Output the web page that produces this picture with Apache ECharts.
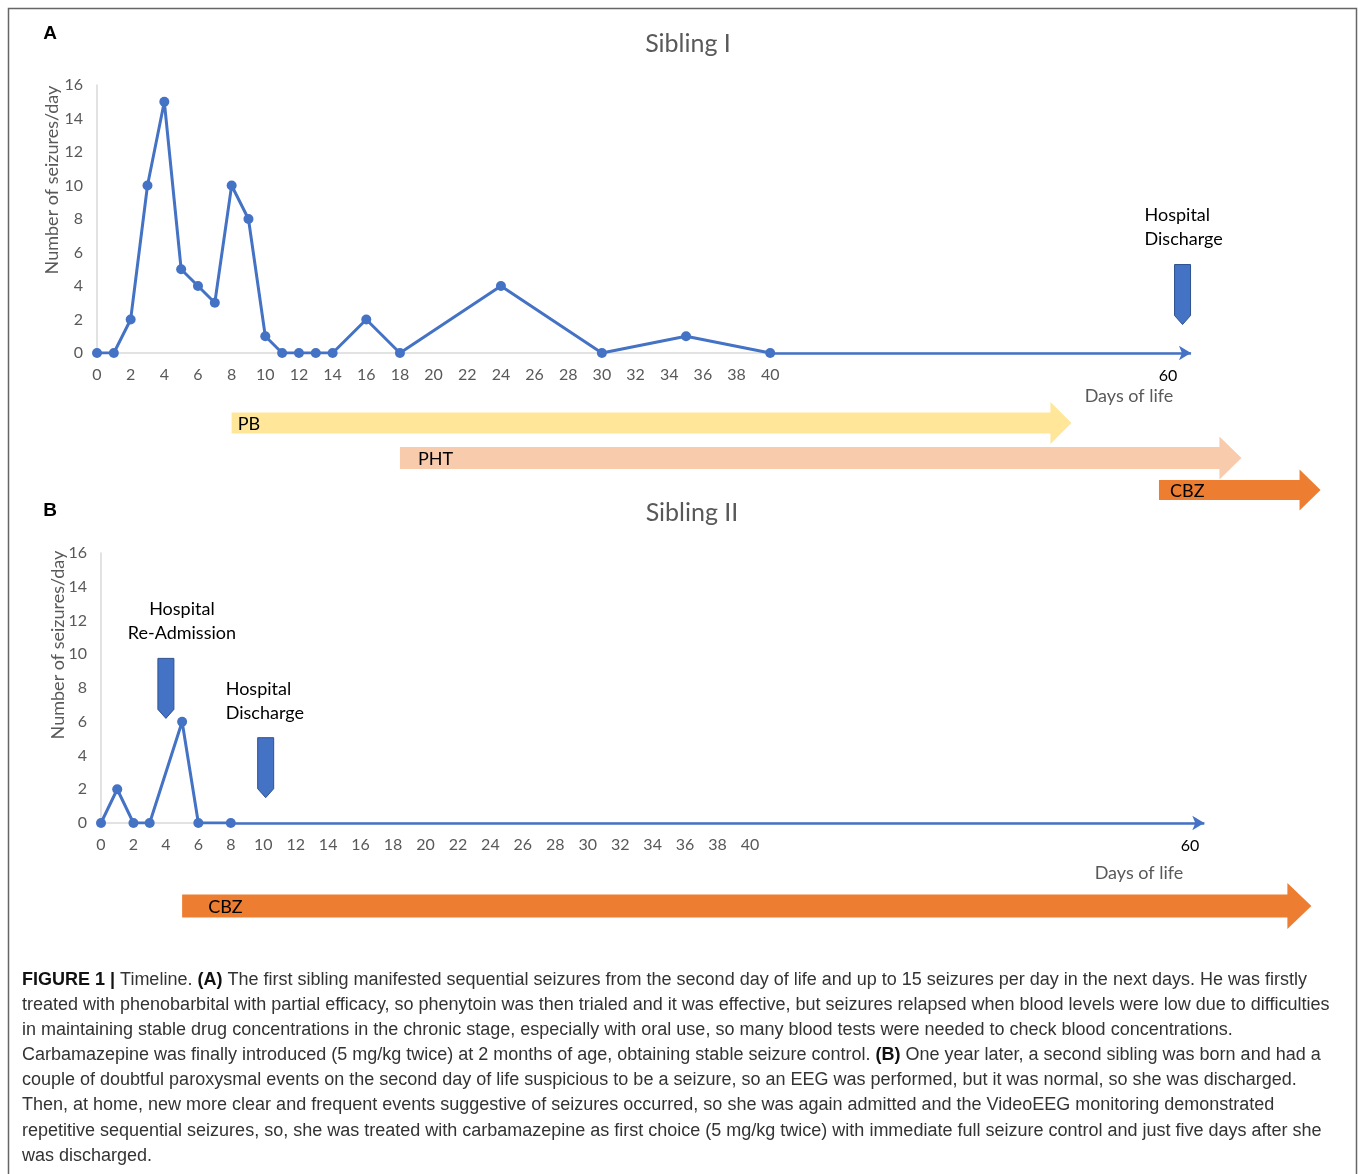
<!DOCTYPE html>
<html><head><meta charset="utf-8">
<script src="https://cdn.jsdelivr.net/npm/echarts@6/dist/echarts.min.js"></script>
<style>html,body{margin:0;padding:0;background:#fff}#c{width:1358px;height:1174px}</style>
</head><body><div id="c"></div>
<script>
// ---------------- DATA ----------------
// Panel A – Sibling I
const daysA = [0,1,2,3,4,5,6,7,8,9,10,11,12,13,14,16,18,24,30,35,40];
const seizuresA = [0,0,2,10,15,5,4,3,10,8,1,0,0,0,0,2,0,4,0,1,0];
// Panel B – Sibling II
const daysB = [0,1,2,3,5,6,8];
const seizuresB = [0,2,0,0,6,0,0];
// Axis tick labels
const xTickLabels = ['0','2','4','6','8','10','12','14','16','18','20','22','24','26','28','30','32','34','36','38','40'];
const farTickLabel = '60';
const xAxisTitle = 'Days of life';
const yAxisTitle = 'Number of seizures/day';
const titleA = 'Sibling I';
const titleB = 'Sibling II';
// Drug treatment arrows (day where the arrow starts, day where its tip lies)
const drugNamesA = ['PB','PHT','CBZ'];
const drugStartA = [8, 18, 63.1];
const drugEndA = [57.9, 68.0, 72.7];
const drugNamesB = ['CBZ'];
const drugStartB = [5];
const drugEndB = [74.6];
// Hospital events (day, seizure level the marker points to)
const eventLabelsA = ['Hospital\nDischarge'];
const eventDaysA = [64.5];
const eventLevelA = [1.7];
const eventLabelsB = ['Hospital\nRe-Admission','Hospital\nDischarge'];
const eventDaysB = [4.0, 10.15];
const eventLevelB = [6.2, 1.5];
// Caption
const captionLines = [
  '{b|FIGURE 1 |} Timeline. {b|(A)} The first sibling manifested sequential seizures from the second day of life and up to 15 seizures per day in the next days. He was firstly',
  'treated with phenobarbital with partial efficacy, so phenytoin was then trialed and it was effective, but seizures relapsed when blood levels were low due to difficulties',
  'in maintaining stable drug concentrations in the chronic stage, especially with oral use, so many blood tests were needed to check blood concentrations.',
  'Carbamazepine was finally introduced (5 mg/kg twice) at 2 months of age, obtaining stable seizure control. {b|(B)} One year later, a second sibling was born and had a',
  'couple of doubtful paroxysmal events on the second day of life suspicious to be a seizure, so an EEG was performed, but it was normal, so she was discharged.',
  'Then, at home, new more clear and frequent events suggestive of seizures occurred, so she was again admitted and the VideoEEG monitoring demonstrated',
  'repetitive sequential seizures, so, she was treated with carbamazepine as first choice (5 mg/kg twice) with immediate full seizure control and just five days after she',
  'was discharged.'
];

// ---------------- STYLE ----------------
const FONT = 'Lato, "Noto Sans", sans-serif';
const CAP_FONT = '"Liberation Sans", Arial, sans-serif';
const BLUE = '#4472C4';
const GRAY = '#595959';
const XMAX_A = 65, XMAX_B = 68;
const drugColorsA = ['#FFE699','#F8CBAD','#ED7D31'];
const drugColorsB = ['#ED7D31'];
// lane geometry in px relative to the x-axis baseline
const lanesA = [
  {dy:70, body:21, head:42, headLen:21, tx:6},
  {dy:105, body:22, head:43, headLen:22, tx:18},
  {dy:137, body:20, head:41, headLen:21, tx:11}
];
const lanesB = [{dy:83, body:23, head:46, headLen:24, tx:26}];
const eventTextA = [{dx:-38, align:'left'}];
const eventTextB = [{dx:16, align:'center'}, {dx:-40, align:'left'}];

const chart = echarts.init(document.getElementById('c'), null, {renderer:'canvas'});

function xAxisCfg(gi, max){
  return {
    gridIndex: gi, type:'value', min:0, max:max, interval:2,
    axisLine:{show:true, onZero:false, lineStyle:{color:'#D9D9D9', width:1.5}},
    axisTick:{show:false}, splitLine:{show:false},
    axisLabel:{color:GRAY, fontSize:16, fontFamily:FONT, margin:14,
      formatter: v => xTickLabels.includes(String(v)) ? String(v) : ''}
  };
}
function yAxisCfg(gi){
  return {
    gridIndex: gi, type:'value', min:0, max:16, interval:2,
    axisLine:{show:true, lineStyle:{color:'#D9D9D9', width:1.5}},
    axisTick:{show:false}, splitLine:{show:false},
    axisLabel:{color:GRAY, fontSize:16, fontFamily:FONT, margin:14}
  };
}
function lineSeries(gi, days, vals, xmax){
  return {
    type:'line', xAxisIndex:gi, yAxisIndex:gi,
    data: days.map((d,i)=>[d, vals[i]]),
    symbol:'circle', symbolSize:10, z:5,
    lineStyle:{color:BLUE, width:3}, itemStyle:{color:BLUE},
    markLine:{
      silent:true, symbol:['none','arrow'], symbolSize:[11,12],
      lineStyle:{color:BLUE, width:2.5, type:'solid'}, label:{show:false},
      emphasis:{disabled:true},
      data:[[{coord:[days[days.length-1],0]},{coord:[xmax,0]}]]
    }
  };
}
function drugSeries(gi, names, starts, ends, lanes, colors){
  return {
    type:'custom', xAxisIndex:gi, yAxisIndex:gi, clip:false, silent:true, z:1,
    data: names.map((n,i)=>[starts[i], ends[i]]),
    renderItem(params, api){
      const i = params.dataIndex, L = lanes[i];
      const p0 = api.coord([api.value(0),0]);
      const p1 = api.coord([api.value(1),0]);
      const cy = p0[1] + L.dy, bh = L.body/2, hh = L.head/2;
      const x0 = p0[0], x1 = p1[0], xh = x1 - L.headLen;
      return {type:'group', children:[
        {type:'polygon', shape:{points:[[x0,cy-bh],[xh,cy-bh],[xh,cy-hh],[x1,cy],[xh,cy+hh],[xh,cy+bh],[x0,cy+bh]]},
          style:{fill:colors[i]}},
        {type:'text', x:x0+L.tx, y:cy+1, style:{text:names[i], fill:'#000', font:'18px '+FONT, verticalAlign:'middle', align:'left'}}
      ]};
    }
  };
}
function eventSeries(gi, labels, days, levels, textCfg){
  return {
    type:'custom', xAxisIndex:gi, yAxisIndex:gi, clip:false, silent:true, z:4,
    data: days.map((d,i)=>[d, levels[i]]),
    renderItem(params, api){
      const i = params.dataIndex, T = textCfg[i];
      const p = api.coord([api.value(0), api.value(1)]);
      const x = p[0], y = p[1], w = 16, len = 60, pt = 9;
      return {type:'group', children:[
        {type:'polygon', shape:{points:[[x-w/2,y-len],[x+w/2,y-len],[x+w/2,y-pt],[x,y],[x-w/2,y-pt]]},
          style:{fill:BLUE, stroke:'#2F528F', lineWidth:1}},
        {type:'text', x:x+T.dx, y:y-len-13, style:{text:labels[i], fill:'#000', font:'18px '+FONT,
          lineHeight:24, align:T.align, verticalAlign:'bottom'}}
      ]};
    }
  };
}
function txt(x, y, text, font, fill, extra){
  return Object.assign({type:'text', x:x, y:y, silent:true,
    style:{text:text, font:font, fill:fill, align:'center', verticalAlign:'middle'}}, extra||{});
}

const graphics = [
  {type:'rect', silent:true, shape:{x:8.5, y:8.5, width:1348, height:1190}, style:{fill:'none', stroke:'#666', lineWidth:1.5}},
  txt(50, 34, 'A', 'bold 19px '+CAP_FONT, '#000'),
  txt(50, 511, 'B', 'bold 19px '+CAP_FONT, '#000'),
  txt(688, 44, titleA, '25px '+FONT, GRAY),
  txt(692, 513, titleB, '25px '+FONT, GRAY),
  txt(52, 180, yAxisTitle, '18px '+FONT, GRAY, {rotation:Math.PI/2}),
  txt(58, 645, yAxisTitle, '18px '+FONT, GRAY, {rotation:Math.PI/2}),
  txt(1168, 376, farTickLabel, '16px '+FONT, '#000'),
  txt(1190, 846, farTickLabel, '16px '+FONT, '#000'),
  txt(1129, 396, xAxisTitle, '18px '+FONT, GRAY),
  txt(1139, 873, xAxisTitle, '18px '+FONT, GRAY)
];
captionLines.forEach((line, i) => {
  graphics.push({type:'text', silent:true, x:22, y:980 + i*25.1,
    style:{text:line, font:'18px '+CAP_FONT, fill:'#333', align:'left', verticalAlign:'middle',
      rich:{b:{font:'bold 18px '+CAP_FONT, fill:'#111'}}}});
});

chart.setOption({
  animation:false,
  backgroundColor:'#fff',
  grid:[
    {left:97, top:85, width:XMAX_A*16.83, height:268},
    {left:101, top:553, width:XMAX_B*16.225, height:270}
  ],
  xAxis:[xAxisCfg(0, XMAX_A), xAxisCfg(1, XMAX_B)],
  yAxis:[yAxisCfg(0), yAxisCfg(1)],
  series:[
    drugSeries(0, drugNamesA, drugStartA, drugEndA, lanesA, drugColorsA),
    drugSeries(1, drugNamesB, drugStartB, drugEndB, lanesB, drugColorsB),
    lineSeries(0, daysA, seizuresA, XMAX_A),
    lineSeries(1, daysB, seizuresB, XMAX_B),
    eventSeries(0, eventLabelsA, eventDaysA, eventLevelA, eventTextA),
    eventSeries(1, eventLabelsB, eventDaysB, eventLevelB, eventTextB)
  ],
  graphic: graphics
});
</script></body></html>
